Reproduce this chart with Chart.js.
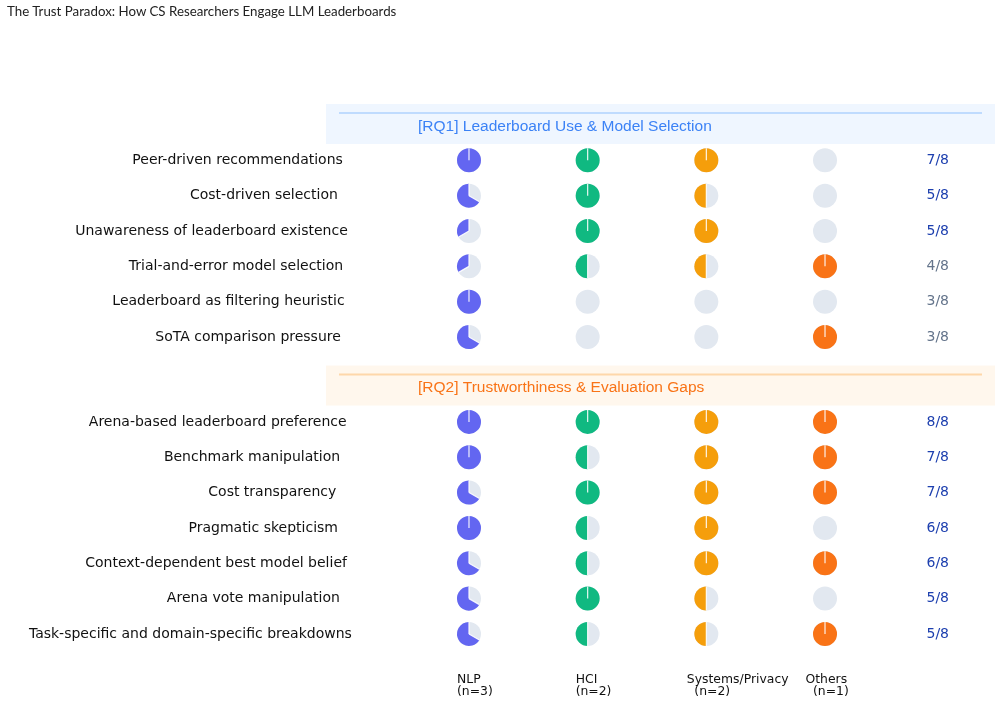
<!DOCTYPE html>
<html>
<head>
<meta charset="utf-8">
<script src="https://cdn.jsdelivr.net/npm/chart.js@4/dist/chart.umd.min.js"></script>
<style>
  html, body { margin: 0; padding: 0; background: #fff; }
  #wrap { position: relative; width: 1001px; height: 705px; }
  #title { position: absolute; left: 7px; top: 3px; font: 13.3px Lato, "Open Sans", sans-serif; color: #222; }
  canvas { position: absolute; left: 0; top: 0; }
</style>
</head>
<body>
<div id="wrap">
  <canvas id="chart" width="1001" height="705"></canvas>
  <div id="title">The Trust Paradox: How CS Researchers Engage LLM Leaderboards</div>
</div>
<script>
// Themes, grouped by research question
const rq1Themes = [
  "Peer-driven recommendations",
  "Cost-driven selection",
  "Unawareness of leaderboard existence",
  "Trial-and-error model selection",
  "Leaderboard as filtering heuristic",
  "SoTA comparison pressure",
];
const rq2Themes = [
  "Arena-based leaderboard preference",
  "Benchmark manipulation",
  "Cost transparency",
  "Pragmatic skepticism",
  "Context-dependent best model belief",
  "Arena vote manipulation",
  "Task-specific and domain-specific breakdowns",
];
const sectionTitles = ["[RQ1] Leaderboard Use & Model Selection", "[RQ2] Trustworthiness & Evaluation Gaps"];

// Participants mentioning each theme (RQ1 rows then RQ2 rows)
const nlpCounts    = [3, 2, 1, 1, 3, 2,  3, 3, 2, 3, 2, 2, 2];
const hciCounts    = [2, 2, 2, 1, 0, 0,  2, 1, 2, 1, 1, 2, 1];
const systemsCounts = [2, 1, 2, 1, 0, 0,  2, 2, 2, 2, 2, 1, 1];
const othersCounts = [0, 0, 0, 1, 0, 1,  1, 1, 1, 0, 1, 0, 1];

const columnNames = ["NLP", "HCI", "Systems/Privacy", "Others"];
const groupSizes = [3, 2, 2, 1];
const totalParticipants = 8;

const colors = ["#6366f1", "#10b981", "#f59e0b", "#f97316"];
const EMPTY = "#e2e8f0";
const sectionStyles = [
  { band: "#eff6ff", line: "#bfdbfe", text: "#3b82f6" },
  { band: "#fff7ed", line: "#fed7aa", text: "#f97316" },
];

// y slot of each row: header, then rows; second section pushed down a bit
const SECTION_GAP = 0.4;
const headerSlots = [0, rq1Themes.length + 1 + SECTION_GAP];
const rowSlots = [
  ...rq1Themes.map((_, i) => headerSlots[0] + 1 + i),
  ...rq2Themes.map((_, i) => headerSlots[1] + 1 + i),
];
const allThemes = [...rq1Themes, ...rq2Themes];
const seriesCounts = [nlpCounts, hciCounts, systemsCounts, othersCounts];
const FRACTION_X = 3.95;

const datasets = seriesCounts.map((counts, c) => ({
  label: columnNames[c],
  data: counts.map((v, i) => ({ x: c, y: rowSlots[i], v: v })),
  pointRadius: 0,
  pointHoverRadius: 0,
  backgroundColor: colors[c],
}));

const R = 12;

// Draws section bands, row labels, pies, totals and column labels
const matrixPlugin = {
  id: "harveyMatrix",
  beforeDatasetsDraw(chart) {
    const { ctx, scales } = chart;
    ctx.save();
    headerSlots.forEach((slot, s) => {
      const y = scales.y.getPixelForValue(slot);
      const st = sectionStyles[s];
      ctx.fillStyle = st.band;
      ctx.fillRect(326, y - 21, 669, 40);
      ctx.strokeStyle = st.line;
      ctx.lineWidth = 2;
      ctx.beginPath();
      ctx.moveTo(339, y - 12);
      ctx.lineTo(982, y - 12);
      ctx.stroke();
      ctx.fillStyle = st.text;
      ctx.font = "15.5px 'Liberation Sans', Arial, sans-serif";
      ctx.textAlign = "left";
      ctx.textBaseline = "middle";
      ctx.fillText(sectionTitles[s], 418, y + 1.5);
    });
    ctx.restore();
  },
  afterDatasetsDraw(chart) {
    const { ctx, scales } = chart;
    ctx.save();

    // row labels
    ctx.font = "14px 'DejaVu Sans', sans-serif";
    ctx.fillStyle = "#111";
    ctx.textAlign = "right";
    ctx.textBaseline = "middle";
    allThemes.forEach((t, i) => {
      const y = scales.y.getPixelForValue(rowSlots[i]);
      const w = ctx.measureText(t).width;
      ctx.fillText(t, 326 + w * 0.08, y);
    });

    // pies
    chart.data.datasets.forEach((ds, c) => {
      const meta = chart.getDatasetMeta(c);
      meta.data.forEach((pt, i) => {
        const cx = pt.x, cy = pt.y;
        const frac = ds.data[i].v / groupSizes[c];
        ctx.fillStyle = EMPTY;
        ctx.beginPath();
        ctx.arc(cx, cy, R, 0, Math.PI * 2);
        ctx.fill();
        if (frac <= 0) return;
        const end = -Math.PI / 2;
        const start = end - frac * Math.PI * 2;
        ctx.fillStyle = colors[c];
        ctx.beginPath();
        ctx.moveTo(cx, cy);
        ctx.arc(cx, cy, R, start, end);
        ctx.closePath();
        ctx.fill();
        ctx.strokeStyle = "rgba(255,255,255,0.9)";
        ctx.lineWidth = 1.2;
        ctx.beginPath();
        ctx.moveTo(cx, cy);
        ctx.lineTo(cx, cy - R);
        if (frac < 1) {
          ctx.moveTo(cx, cy);
          ctx.lineTo(cx + R * Math.cos(start), cy + R * Math.sin(start));
        }
        ctx.stroke();
      });
    });

    // totals
    ctx.font = "14px 'DejaVu Sans', sans-serif";
    ctx.textAlign = "center";
    allThemes.forEach((t, i) => {
      const total = seriesCounts.reduce((s, arr) => s + arr[i], 0);
      ctx.fillStyle = total >= 5 ? "#1e40af" : "#64748b";
      ctx.fillText(total + "/" + totalParticipants, scales.x.getPixelForValue(FRACTION_X), scales.y.getPixelForValue(rowSlots[i]));
    });

    // column labels
    ctx.font = "12.4px 'DejaVu Sans', sans-serif";
    ctx.fillStyle = "#111";
    ctx.textAlign = "left";
    const lastY = scales.y.getPixelForValue(rowSlots[rowSlots.length - 1]);
    columnNames.forEach((name, c) => {
      const x = scales.x.getPixelForValue(c) - R;
      const w = ctx.measureText(name).width;
      ctx.fillText(name, x - (w > 35 ? 7.5 : 0), lastY + 46);
      ctx.fillText("(n=" + groupSizes[c] + ")", x, lastY + 58);
    });

    ctx.restore();
  },
};

new Chart(document.getElementById("chart"), {
  type: "scatter",
  data: { datasets },
  options: {
    responsive: false,
    animation: false,
    layout: { padding: 0 },
    scales: {
      x: { type: "linear", display: false, min: -3.952, max: 4.483 },
      y: { type: "linear", display: false, reverse: true, min: -3.536, max: 16.41 },
    },
    plugins: {
      legend: { display: false },
      tooltip: { enabled: false },
    },
  },
  plugins: [matrixPlugin],
});
</script>
</body>
</html>
